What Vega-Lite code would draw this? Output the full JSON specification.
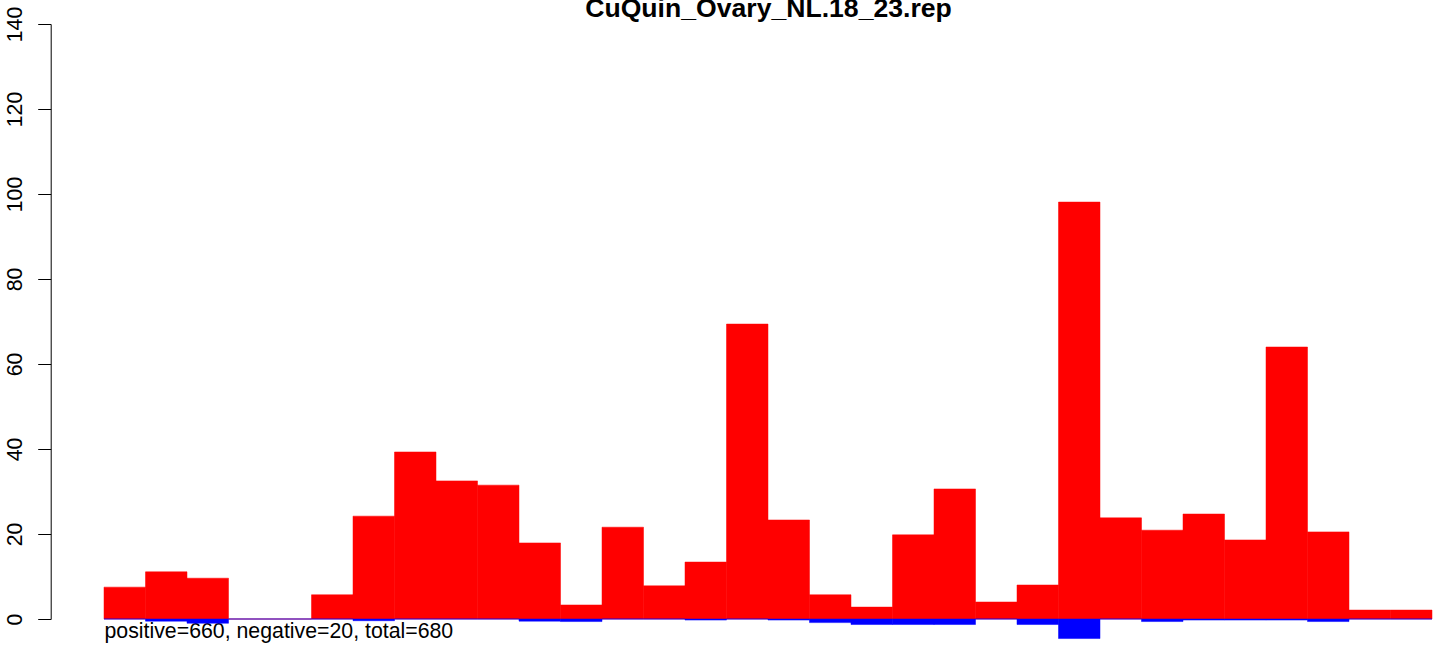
{
  "$schema": "https://vega.github.io/schema/vega-lite/v6.json",
  "width": 1328,
  "height": 595,
  "autosize": {"type": "none"},
  "padding": {"left": 104, "top": 24, "right": 9, "bottom": 26},
  "background": "white",
  "config": {"view": {"stroke": null}},
  "data": {
    "values": [
      {"bin_start": 0, "bin_end": 1, "positive": 7.5, "negative": 0},
      {"bin_start": 1, "bin_end": 2, "positive": 11.1, "negative": -0.5},
      {"bin_start": 2, "bin_end": 3, "positive": 9.6, "negative": -1.0},
      {"bin_start": 3, "bin_end": 4, "positive": 0, "negative": 0},
      {"bin_start": 4, "bin_end": 5, "positive": 0, "negative": 0},
      {"bin_start": 5, "bin_end": 6, "positive": 5.7, "negative": 0},
      {"bin_start": 6, "bin_end": 7, "positive": 24.2, "negative": -0.4},
      {"bin_start": 7, "bin_end": 8, "positive": 39.3, "negative": 0},
      {"bin_start": 8, "bin_end": 9, "positive": 32.5, "negative": 0},
      {"bin_start": 9, "bin_end": 10, "positive": 31.5, "negative": 0},
      {"bin_start": 10, "bin_end": 11, "positive": 17.9, "negative": -0.5},
      {"bin_start": 11, "bin_end": 12, "positive": 3.3, "negative": -0.6},
      {"bin_start": 12, "bin_end": 13, "positive": 21.6, "negative": 0},
      {"bin_start": 13, "bin_end": 14, "positive": 7.8, "negative": 0},
      {"bin_start": 14, "bin_end": 15, "positive": 13.4, "negative": -0.25},
      {"bin_start": 15, "bin_end": 16, "positive": 69.4, "negative": 0},
      {"bin_start": 16, "bin_end": 17, "positive": 23.3, "negative": -0.25},
      {"bin_start": 17, "bin_end": 18, "positive": 5.7, "negative": -0.85},
      {"bin_start": 18, "bin_end": 19, "positive": 2.8, "negative": -1.3},
      {"bin_start": 19, "bin_end": 20, "positive": 19.8, "negative": -1.3},
      {"bin_start": 20, "bin_end": 21, "positive": 30.6, "negative": -1.3},
      {"bin_start": 21, "bin_end": 22, "positive": 4.0, "negative": 0},
      {"bin_start": 22, "bin_end": 23, "positive": 8.0, "negative": -1.3},
      {"bin_start": 23, "bin_end": 24, "positive": 98.1, "negative": -4.6},
      {"bin_start": 24, "bin_end": 25, "positive": 23.8, "negative": 0},
      {"bin_start": 25, "bin_end": 26, "positive": 20.9, "negative": -0.6},
      {"bin_start": 26, "bin_end": 27, "positive": 24.7, "negative": -0.25},
      {"bin_start": 27, "bin_end": 28, "positive": 18.6, "negative": -0.25},
      {"bin_start": 28, "bin_end": 29, "positive": 64.0, "negative": -0.25},
      {"bin_start": 29, "bin_end": 30, "positive": 20.5, "negative": -0.6},
      {"bin_start": 30, "bin_end": 31, "positive": 2.1, "negative": 0},
      {"bin_start": 31, "bin_end": 32, "positive": 2.1, "negative": 0}
    ]
  },
  "resolve": {"axis": {"x": "independent"}},
  "layer": [
    {
      "mark": {"type": "bar", "color": "#FF0000", "stroke": "#FF0000", "strokeWidth": 0.5},
      "encoding": {
        "x": {
          "field": "bin_start",
          "type": "quantitative",
          "scale": {"domain": [0, 32], "nice": false, "zero": false},
          "axis": {
            "orient": "bottom",
            "title": "positive=660, negative=20, total=680",
            "domain": false,
            "ticks": false,
            "labels": false,
            "grid": false,
            "titleFont": "Liberation Sans",
            "titleFontSize": 21.3,
            "titleFontWeight": "normal",
            "titleColor": "black",
            "titleAlign": "left",
            "titleBaseline": "alphabetic",
            "titleX": 0,
            "titleY": 18.5
          }
        },
        "x2": {"field": "bin_end"},
        "y": {
          "field": "positive",
          "type": "quantitative",
          "scale": {"domain": [0, 140], "nice": false},
          "axis": {
            "title": null,
            "values": [0, 20, 40, 60, 80, 100, 120, 140],
            "offset": 53.3,
            "grid": false,
            "domainColor": "black",
            "domainWidth": 1,
            "tickColor": "black",
            "tickWidth": 1,
            "tickSize": 13,
            "labelAngle": 270,
            "labelAlign": "center",
            "labelBaseline": "alphabetic",
            "labelPadding": 16,
            "labelFont": "Liberation Sans",
            "labelFontSize": 21.3,
            "labelColor": "black",
            "labelFlush": false,
            "labelOverlap": false,
            "labelBound": false
          }
        },
        "y2": {"datum": 0}
      }
    },
    {
      "mark": {"type": "bar", "color": "#0000FF", "stroke": "#0000FF", "strokeWidth": 0.5},
      "encoding": {
        "x": {
          "field": "bin_start",
          "type": "quantitative",
          "axis": {
            "orient": "top",
            "title": "CuQuin_Ovary_NL.18_23.rep",
            "domain": false,
            "ticks": false,
            "labels": false,
            "grid": false,
            "titleFont": "Liberation Sans",
            "titleFontSize": 26.6,
            "titleFontWeight": "bold",
            "titleColor": "black",
            "titleAlign": "center",
            "titleBaseline": "alphabetic",
            "titleX": 664,
            "titleY": -7.5
          }
        },
        "x2": {"field": "bin_end"},
        "y": {"field": "negative", "type": "quantitative"},
        "y2": {"datum": 0}
      }
    }
  ]
}
